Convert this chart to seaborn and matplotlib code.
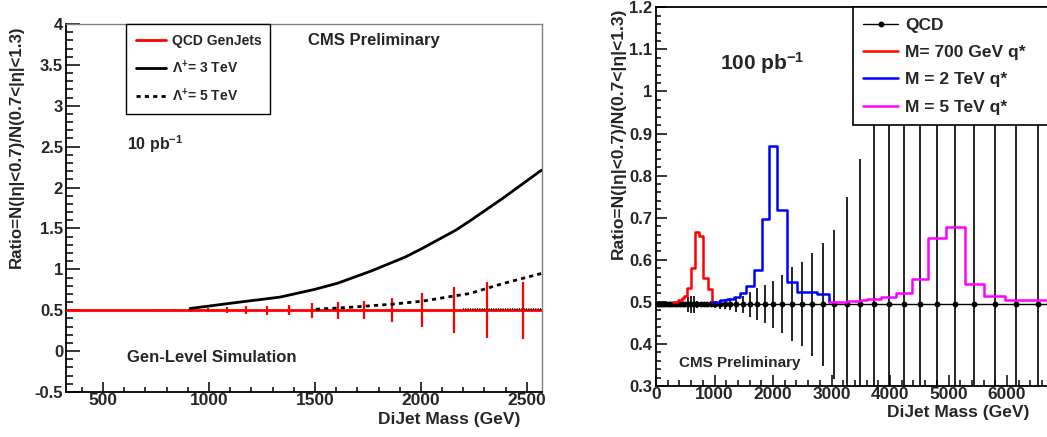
import matplotlib
matplotlib.use('Agg')
import matplotlib.pyplot as plt
from matplotlib.ticker import MultipleLocator, FixedLocator, FormatStrFormatter
import seaborn as sns

# ---- left panel: 10 pb-1, gen-level contact interaction ----
genjet_mass = [769, 839, 915, 996, 1083, 1174, 1275, 1378, 1487, 1607, 1731, 1865, 2005, 2155, 2312, 2481]
genjet_ratio = [0.5, 0.5, 0.5, 0.5, 0.5, 0.5, 0.5, 0.5, 0.5, 0.5, 0.5, 0.5, 0.5, 0.5, 0.5, 0.5]
genjet_err = [0.014, 0.014, 0.018, 0.026, 0.036, 0.048, 0.055, 0.063, 0.09, 0.105, 0.11, 0.15, 0.205, 0.28, 0.34, 0.35]

lam3_mass = [911, 1129, 1335, 1496, 1607, 1766, 1926, 2005, 2164, 2230, 2387, 2568]
lam3_ratio = [0.521, 0.594, 0.66, 0.753, 0.83, 0.98, 1.15, 1.254, 1.478, 1.59, 1.87, 2.211]

lam5_mass = [1504, 1649, 1862, 2005, 2149, 2230, 2387, 2568]
lam5_ratio = [0.512, 0.533, 0.573, 0.61, 0.671, 0.704, 0.826, 0.949]

extra_mass = [2200, 2568]
extra_ratio = [0.512, 0.512]

# ---- right panel: 100 pb-1, QCD vs excited quarks ----
qcd_mass = [25, 55, 90, 125, 160, 200, 240, 280, 320, 365, 410, 455, 500, 550, 600, 650, 705, 760, 815, 875, 935,
            1003, 1085, 1175, 1272, 1375, 1485, 1605, 1730, 1865, 2005, 2159, 2320, 2491, 2667, 2860, 3048,
            3260, 3487, 3726, 3978, 4234, 4513, 4803, 5116, 5441, 5790, 6154, 6530, 6920]
qcd_ratio = [0.494] * len(qcd_mass)
qcd_err = [0.004, 0.004, 0.004, 0.004, 0.004, 0.004, 0.004, 0.004, 0.004, 0.004, 0.004, 0.005, 0.006, 0.018, 0.02,
           0.02, 0.008, 0.006, 0.006, 0.006, 0.007,
           0.008, 0.01, 0.012, 0.014, 0.017, 0.021, 0.03, 0.038, 0.045, 0.055, 0.069, 0.088, 0.1, 0.122, 0.146, 0.177,
           0.254, 0.345, 0.9, 0.9, 0.9, 0.9, 0.9, 0.9, 0.9, 0.9, 0.9, 0.9, 0.9]

# step histograms: bin edges, value per edge (last entry closes the step)
q700_edges = [296, 382, 439, 484, 535, 593, 667, 735, 809, 883, 952]
q700_ratio = [0.5, 0.504, 0.508, 0.515, 0.534, 0.581, 0.667, 0.657, 0.556, 0.531, 0.5]

q2000_edges = [963, 1094, 1219, 1333, 1436, 1538, 1675, 1806, 1937, 2074, 2234, 2405, 2747, 2963]
q2000_ratio = [0.5, 0.504, 0.507, 0.512, 0.52, 0.538, 0.576, 0.698, 0.871, 0.718, 0.548, 0.524, 0.519, 0.5]

q5000_edges = [2963, 3260, 3487, 3612, 3841, 4100, 4370, 4655, 4965, 5282, 5607, 5966, 7000]
q5000_ratio = [0.5, 0.502, 0.504, 0.506, 0.511, 0.521, 0.555, 0.651, 0.679, 0.542, 0.514, 0.504, 0.504]

right_xticks = [0, 1000, 2000, 3000, 4000, 5000, 6000]

ylab = 'Ratio=N(|η|<0.7)/N(0.7<|η|<1.3)'

sns.set_style('ticks')
plt.rcParams['font.family'] = ['Liberation Sans', 'DejaVu Sans']
plt.rcParams['font.weight'] = 'bold'
plt.rcParams['axes.labelweight'] = 'bold'
plt.rcParams['mathtext.fontset'] = 'custom'
plt.rcParams['mathtext.rm'] = 'Liberation Sans:bold'
plt.rcParams['mathtext.it'] = 'Liberation Sans:bold'
plt.rcParams['mathtext.bf'] = 'Liberation Sans:bold'

fig = plt.figure(figsize=(10.47, 4.37), dpi=100)
ax1 = fig.add_axes([0.0635, 0.1030, 0.4539, 0.8421])
ax2 = fig.add_axes([0.6266, 0.1167, 0.3911, 0.8666])


def style_axes(ax, xstep, ystep, ylen, xlen):
    ax.xaxis.set_minor_locator(MultipleLocator(xstep[1]))
    ax.yaxis.set_major_locator(MultipleLocator(ystep[0]))
    ax.yaxis.set_minor_locator(MultipleLocator(ystep[1]))
    ax.xaxis.set_major_formatter(FormatStrFormatter('%g'))
    ax.yaxis.set_major_formatter(FormatStrFormatter('%g'))
    ax.tick_params(which='both', direction='in', top=False, right=False, width=1.1, color='black')
    ax.tick_params(axis='y', which='major', length=ylen[0], labelsize=12, pad=2.5)
    ax.tick_params(axis='y', which='minor', length=ylen[1])
    ax.tick_params(axis='x', which='major', length=xlen[0], labelsize=12.5, pad=1)
    ax.tick_params(axis='x', which='minor', length=xlen[1])
    for s in ['left', 'bottom']:
        ax.spines[s].set_color('black')
        ax.spines[s].set_linewidth(1.3)


# ---- left ----
ax1.axhline(0.5, color='red', lw=2, zorder=3, label='QCD GenJets')
ax1.errorbar(genjet_mass, genjet_ratio, yerr=genjet_err, fmt='none', ecolor='red', elinewidth=1.6, zorder=3)
sns.lineplot(x=lam3_mass, y=lam3_ratio, color='black', lw=2, ax=ax1, zorder=4, label='$\\Lambda^{+}$= 3 TeV')
sns.lineplot(x=lam5_mass, y=lam5_ratio, color='black', lw=2, linestyle=(0, (1.5, 1.5)), ax=ax1, zorder=4,
             label='$\\Lambda^{+}$= 5 TeV')
sns.lineplot(x=extra_mass, y=extra_ratio, color='black', lw=1.2, linestyle=(0, (0.6, 0.8)), ax=ax1, zorder=4,
             label='_nolegend_')

ax1.set_xlim(328, 2570)
ax1.set_ylim(-0.5, 4)
ax1.xaxis.set_major_locator(MultipleLocator(500))
style_axes(ax1, (500, 100), (0.5, 0.1), (10, 5.3), (7.4, 3.8))
ax1.spines['top'].set_color('#808080')
ax1.spines['right'].set_color('#808080')
ax1.spines['top'].set_linewidth(1)
ax1.spines['right'].set_linewidth(1)

h, l = ax1.get_legend_handles_labels()
leg1 = ax1.legend(h, l, loc='upper left', bbox_to_anchor=(0.125, 0.0, 0.303, 1.0), mode='expand',
                  fontsize=10, borderpad=0.7, handlelength=2.2, handletextpad=0.45, labelspacing=0.78,
                  borderaxespad=0, fancybox=False, edgecolor='black', framealpha=1)
leg1.get_frame().set_linewidth(1.0)

ax1.text(0.508, 0.943, 'CMS Preliminary', transform=ax1.transAxes, fontsize=12, va='baseline')
ax1.text(0.127, 0.658, '10 pb$^{-1}$', transform=ax1.transAxes, fontsize=11.5, va='baseline')
ax1.text(0.127, 0.082, 'Gen-Level Simulation', transform=ax1.transAxes, fontsize=12, va='baseline')

ax1.set_xlabel('DiJet Mass (GeV)', fontsize=12.5, loc='right')
ax1.xaxis.set_label_coords(0.955, -0.0535)
ax1.set_ylabel(ylab, fontsize=12.2, loc='top')
ax1.yaxis.set_label_coords(-0.0905, 0.997)

# ---- right ----
ax2.errorbar(qcd_mass, qcd_ratio, yerr=qcd_err, fmt='none', ecolor='black', elinewidth=1.2, zorder=2)
sns.lineplot(x=qcd_mass, y=qcd_ratio, color='black', lw=1, marker='o', markersize=4.2, markeredgewidth=0,
             ax=ax2, zorder=3, label='QCD')
sns.lineplot(x=q700_edges, y=q700_ratio, drawstyle='steps-post', color='red', lw=1.8, ax=ax2, zorder=4,
             label='M= 700 GeV q*')
sns.lineplot(x=q2000_edges, y=q2000_ratio, drawstyle='steps-post', color='blue', lw=1.8, ax=ax2, zorder=4,
             label='M = 2 TeV q*')
sns.lineplot(x=q5000_edges, y=q5000_ratio, drawstyle='steps-post', color='magenta', lw=1.8, ax=ax2, zorder=4,
             label='M = 5 TeV q*')

ax2.set_xlim(0, 7000)
ax2.set_ylim(0.3, 1.2)
ax2.xaxis.set_major_locator(FixedLocator(right_xticks))
style_axes(ax2, (1000, 200), (0.1, 0.02), (7.7, 3.8), (8, 4))
for s in ['top', 'right']:
    ax2.spines[s].set_color('black')
    ax2.spines[s].set_linewidth(1.3)

h, l = ax2.get_legend_handles_labels()
leg2 = ax2.legend(h, l, loc='upper left', bbox_to_anchor=(0.481, 0.0, 0.6, 1.0), mode='expand',
                  fontsize=12.5, borderpad=0.6, handlelength=2.0, handletextpad=0.42, labelspacing=0.7,
                  borderaxespad=0, fancybox=False, edgecolor='black', framealpha=1, numpoints=1)
leg2.get_frame().set_linewidth(1.2)

ax2.text(0.156, 0.834, '100 pb$^{-1}$', transform=ax2.transAxes, fontsize=15, va='baseline')
ax2.text(0.056, 0.051, 'CMS Preliminary', transform=ax2.transAxes, fontsize=11, va='baseline')

ax2.set_xlabel('DiJet Mass (GeV)', fontsize=12.5, loc='right')
ax2.xaxis.set_label_coords(0.911, -0.050)
ax2.set_ylabel(ylab, fontsize=12.5, loc='top')
ax2.yaxis.set_label_coords(-0.073, 0.998)

# make sure the tick labels come out bold like the ROOT style
fig.canvas.draw()
for ax in (ax1, ax2):
    for lbl in ax.get_xticklabels() + ax.get_yticklabels():
        lbl.set_fontweight('bold')

fig.savefig('out.png', dpi=100)
